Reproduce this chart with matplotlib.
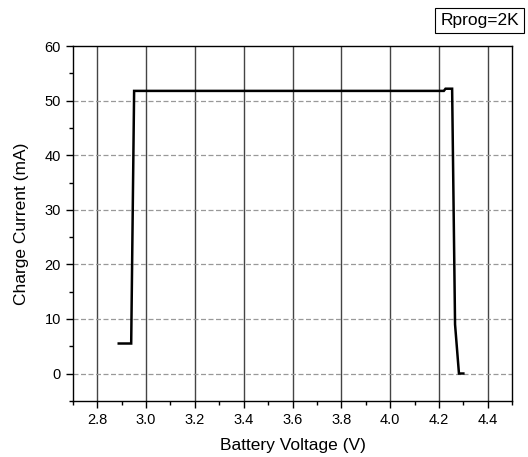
import matplotlib
matplotlib.use("Agg")
import matplotlib.pyplot as plt
from matplotlib.ticker import MultipleLocator

plt.rcParams['font.family'] = ['Liberation Sans', 'DejaVu Sans']

voltage = [2.888, 2.939, 2.951, 4.220, 4.227, 4.254, 4.266, 4.282, 4.300]
current = [5.5, 5.5, 51.8, 51.8, 52.2, 52.2, 9.0, 0.0, 0.0]

x_ticks = [2.8, 3.0, 3.2, 3.4, 3.6, 3.8, 4.0, 4.2, 4.4]
y_ticks = [0, 10, 20, 30, 40, 50, 60]

fig = plt.figure(figsize=(5.28, 4.57), dpi=100)
ax = fig.add_axes([0.138, 0.123, 0.832, 0.776])

ax.plot(voltage, current, color="black", linewidth=1.8, solid_joinstyle="miter")

ax.set_xlim(2.7, 4.5)
ax.set_ylim(-5, 60)
ax.set_xticks(x_ticks)
ax.set_xticklabels([f"{v:.1f}" for v in x_ticks])
ax.set_yticks(y_ticks)
ax.xaxis.set_minor_locator(MultipleLocator(0.1))
ax.yaxis.set_minor_locator(MultipleLocator(5))

# rejilla: verticales solidas, horizontales discontinuas
for v in x_ticks:
    ax.axvline(v, color="#444444", linewidth=1.0, zorder=0)
for v in y_ticks[:-1]:
    ax.axhline(v, color="#999999", linewidth=0.9, linestyle=(0, (4, 2)), zorder=0)

ax.tick_params(which="major", direction="out", length=5, width=1, labelsize=10.5, colors="black")
ax.tick_params(which="minor", direction="out", length=3, width=1)
for s in ax.spines.values():
    s.set_linewidth(1.0)

ax.set_xlabel("Battery Voltage (V)", fontsize=12.5, labelpad=8)
ax.set_ylabel("Charge Current (mA)", fontsize=12.5, labelpad=11)

fig.text(0.983, 0.955, "Rprog=2K", fontsize=12.5, ha="right", va="center",
         bbox=dict(facecolor="white", edgecolor="black", linewidth=0.8,
                   boxstyle="square,pad=0.3"))

fig.savefig("out.png", dpi=100)
